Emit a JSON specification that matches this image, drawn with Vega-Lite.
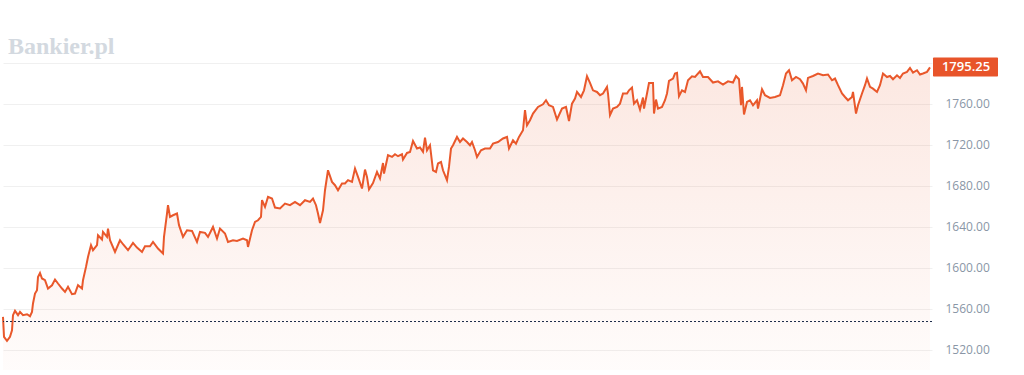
{
  "$schema": "https://vega.github.io/schema/vega-lite/v6.json",
  "autosize": {"type": "none"},
  "width": 929,
  "height": 330,
  "padding": {"left": 3, "top": 40, "right": 92, "bottom": 5},
  "background": "#ffffff",
  "title": {
    "text": "Bankier.pl",
    "anchor": "start",
    "frame": "group",
    "orient": "top",
    "baseline": "alphabetic",
    "offset": -38,
    "dx": 5,
    "font": "Liberation Serif",
    "fontSize": 24,
    "fontWeight": "bold",
    "color": "#d3d9e0"
  },
  "datasets": {
    "price": [
      {"t":3,"price":1551.8},{"t":4,"price":1532.3},{"t":7,"price":1528.4},{"t":10,"price":1532.3},{"t":12,"price":1538.8},{"t":13,"price":1553.5},{"t":15,"price":1557.7},{"t":18,"price":1553.5},{"t":20,"price":1556.7},{"t":23,"price":1553.5},{"t":27,"price":1554.4},{"t":30,"price":1552.5},{"t":32,"price":1556.7},{"t":33,"price":1564.9},{"t":35,"price":1574.6},{"t":37,"price":1577.9},{"t":38,"price":1590.8},{"t":40,"price":1594.7},{"t":42,"price":1589.3},{"t":45,"price":1587.6},{"t":48,"price":1579.5},{"t":52,"price":1582.7},{"t":55,"price":1588.3},{"t":58,"price":1584.4},{"t":62,"price":1579.5},{"t":65,"price":1576.2},{"t":68,"price":1581.1},{"t":72,"price":1574.0},{"t":75,"price":1574.6},{"t":78,"price":1582.7},{"t":82,"price":1579.5},{"t":83,"price":1587.6},{"t":86,"price":1600.6},{"t":88,"price":1610.3},{"t":91,"price":1621.8},{"t":93,"price":1616.9},{"t":97,"price":1621.8},{"t":98,"price":1631.5},{"t":102,"price":1627.3},{"t":103,"price":1634.7},{"t":107,"price":1629.9},{"t":108,"price":1638.0},{"t":110,"price":1626.6},{"t":115,"price":1615.2},{"t":120,"price":1626.6},{"t":123,"price":1622.7},{"t":128,"price":1616.9},{"t":133,"price":1624.0},{"t":137,"price":1619.5},{"t":142,"price":1615.2},{"t":145,"price":1620.8},{"t":150,"price":1620.8},{"t":153,"price":1625.0},{"t":158,"price":1618.5},{"t":163,"price":1613.7},{"t":164,"price":1629.9},{"t":167,"price":1652.7},{"t":168,"price":1660.8},{"t":170,"price":1649.4},{"t":173,"price":1651.0},{"t":177,"price":1652.7},{"t":179,"price":1641.3},{"t":183,"price":1629.9},{"t":187,"price":1636.4},{"t":192,"price":1635.7},{"t":197,"price":1625.0},{"t":200,"price":1634.7},{"t":205,"price":1633.8},{"t":208,"price":1629.9},{"t":213,"price":1639.6},{"t":217,"price":1628.3},{"t":220,"price":1638.0},{"t":225,"price":1633.2},{"t":228,"price":1625.0},{"t":233,"price":1626.6},{"t":237,"price":1626.0},{"t":243,"price":1628.3},{"t":247,"price":1626.6},{"t":248,"price":1620.1},{"t":252,"price":1636.4},{"t":255,"price":1644.5},{"t":258,"price":1646.1},{"t":261,"price":1649.4},{"t":262,"price":1665.7},{"t":265,"price":1659.1},{"t":268,"price":1668.9},{"t":272,"price":1667.3},{"t":275,"price":1658.5},{"t":280,"price":1657.6},{"t":285,"price":1662.4},{"t":290,"price":1660.8},{"t":295,"price":1664.0},{"t":300,"price":1660.8},{"t":305,"price":1665.7},{"t":310,"price":1664.0},{"t":313,"price":1667.3},{"t":316,"price":1660.8},{"t":318,"price":1652.7},{"t":320,"price":1643.5},{"t":323,"price":1655.9},{"t":325,"price":1675.4},{"t":328,"price":1694.9},{"t":332,"price":1683.5},{"t":335,"price":1680.3},{"t":338,"price":1675.4},{"t":342,"price":1682.0},{"t":345,"price":1682.0},{"t":348,"price":1685.2},{"t":352,"price":1683.5},{"t":355,"price":1696.6},{"t":358,"price":1688.4},{"t":362,"price":1677.1},{"t":365,"price":1695.6},{"t":367,"price":1688.4},{"t":369,"price":1676.1},{"t":373,"price":1682.5},{"t":377,"price":1693.3},{"t":380,"price":1686.8},{"t":383,"price":1702.0},{"t":384,"price":1691.7},{"t":388,"price":1709.6},{"t":392,"price":1707.9},{"t":395,"price":1710.5},{"t":398,"price":1708.6},{"t":402,"price":1710.5},{"t":403,"price":1705.4},{"t":407,"price":1711.8},{"t":410,"price":1712.8},{"t":413,"price":1723.5},{"t":417,"price":1716.1},{"t":420,"price":1717.1},{"t":423,"price":1712.8},{"t":425,"price":1726.8},{"t":427,"price":1714.4},{"t":430,"price":1719.3},{"t":433,"price":1694.9},{"t":436,"price":1693.3},{"t":438,"price":1701.5},{"t":441,"price":1703.0},{"t":443,"price":1694.9},{"t":447,"price":1685.2},{"t":449,"price":1698.1},{"t":451,"price":1716.1},{"t":453,"price":1719.3},{"t":457,"price":1727.4},{"t":460,"price":1722.5},{"t":463,"price":1725.9},{"t":467,"price":1722.5},{"t":470,"price":1719.3},{"t":472,"price":1722.5},{"t":475,"price":1714.4},{"t":477,"price":1707.9},{"t":481,"price":1714.4},{"t":485,"price":1716.1},{"t":490,"price":1716.1},{"t":493,"price":1720.9},{"t":498,"price":1722.5},{"t":503,"price":1725.9},{"t":507,"price":1727.4},{"t":509,"price":1716.1},{"t":513,"price":1724.2},{"t":516,"price":1720.9},{"t":519,"price":1727.4},{"t":523,"price":1733.9},{"t":525,"price":1753.5},{"t":527,"price":1738.8},{"t":530,"price":1743.7},{"t":533,"price":1750.2},{"t":538,"price":1756.7},{"t":543,"price":1759.3},{"t":546,"price":1763.2},{"t":549,"price":1758.3},{"t":553,"price":1756.7},{"t":557,"price":1744.4},{"t":562,"price":1755.1},{"t":566,"price":1756.7},{"t":569,"price":1743.0},{"t":572,"price":1759.9},{"t":575,"price":1764.9},{"t":577,"price":1771.3},{"t":581,"price":1766.4},{"t":584,"price":1772.9},{"t":587,"price":1786.6},{"t":590,"price":1780.1},{"t":593,"price":1772.9},{"t":597,"price":1771.3},{"t":600,"price":1768.1},{"t":603,"price":1769.8},{"t":607,"price":1776.2},{"t":608,"price":1769.8},{"t":610,"price":1748.6},{"t":613,"price":1755.1},{"t":617,"price":1756.7},{"t":620,"price":1759.9},{"t":623,"price":1769.8},{"t":627,"price":1769.8},{"t":629,"price":1772.9},{"t":632,"price":1775.6},{"t":634,"price":1759.9},{"t":637,"price":1763.2},{"t":640,"price":1754.1},{"t":643,"price":1765.8},{"t":644,"price":1755.1},{"t":647,"price":1769.8},{"t":649,"price":1780.1},{"t":653,"price":1780.1},{"t":654,"price":1750.2},{"t":656,"price":1763.9},{"t":658,"price":1755.1},{"t":662,"price":1756.7},{"t":665,"price":1763.2},{"t":667,"price":1769.8},{"t":669,"price":1782.1},{"t":673,"price":1784.4},{"t":675,"price":1789.3},{"t":677,"price":1789.9},{"t":679,"price":1767.1},{"t":682,"price":1772.9},{"t":685,"price":1771.3},{"t":688,"price":1782.7},{"t":692,"price":1786.6},{"t":695,"price":1785.9},{"t":700,"price":1791.5},{"t":703,"price":1785.9},{"t":708,"price":1785.9},{"t":713,"price":1780.5},{"t":718,"price":1781.7},{"t":723,"price":1778.5},{"t":728,"price":1781.7},{"t":733,"price":1780.5},{"t":736,"price":1786.9},{"t":739,"price":1783.7},{"t":741,"price":1758.3},{"t":742,"price":1776.2},{"t":744,"price":1749.3},{"t":747,"price":1761.6},{"t":750,"price":1763.2},{"t":753,"price":1758.3},{"t":757,"price":1763.2},{"t":758,"price":1755.1},{"t":762,"price":1774.0},{"t":765,"price":1768.1},{"t":770,"price":1765.5},{"t":775,"price":1766.4},{"t":780,"price":1768.1},{"t":783,"price":1777.9},{"t":786,"price":1789.3},{"t":789,"price":1792.5},{"t":792,"price":1782.7},{"t":796,"price":1785.9},{"t":800,"price":1783.7},{"t":803,"price":1779.5},{"t":806,"price":1772.9},{"t":808,"price":1785.0},{"t":813,"price":1786.9},{"t":818,"price":1789.3},{"t":823,"price":1787.6},{"t":828,"price":1788.3},{"t":832,"price":1782.7},{"t":835,"price":1784.4},{"t":838,"price":1777.9},{"t":842,"price":1769.8},{"t":845,"price":1766.4},{"t":848,"price":1763.2},{"t":852,"price":1766.4},{"t":853,"price":1771.3},{"t":856,"price":1750.2},{"t":858,"price":1758.3},{"t":862,"price":1769.8},{"t":865,"price":1777.9},{"t":867,"price":1784.4},{"t":870,"price":1776.2},{"t":873,"price":1774.5},{"t":877,"price":1771.3},{"t":880,"price":1777.9},{"t":883,"price":1789.3},{"t":887,"price":1785.9},{"t":890,"price":1786.9},{"t":893,"price":1783.7},{"t":897,"price":1787.6},{"t":900,"price":1785.0},{"t":903,"price":1789.3},{"t":907,"price":1790.9},{"t":910,"price":1794.7},{"t":913,"price":1790.2},{"t":917,"price":1792.5},{"t":920,"price":1788.3},{"t":923,"price":1789.3},{"t":927,"price":1790.9},{"t":930,"price":1795.25}
    ],
    "ref": [{"price": 1547.3}]
  },
  "encoding": {
    "y": {
      "field": "price",
      "type": "quantitative",
      "scale": {"domain": [1500, 1822], "zero": false, "nice": false},
      "axis": {
        "orient": "right",
        "values": [1520, 1560, 1600, 1640, 1680, 1720, 1760, 1800],
        "format": ".2f",
        "domain": false,
        "ticks": false,
        "labelPadding": 13,
        "labelColor": "#8a96a6",
        "labelFont": "Open Sans",
        "labelFontSize": 12,
        "grid": true,
        "gridColor": "#f0f0f0",
        "gridWidth": 1,
        "title": null
      }
    }
  },
  "layer": [
    {
      "data": {"name": "price"},
      "mark": {
        "type": "area",
        "color": {
          "gradient": "linear",
          "x1": 0, "y1": 0, "x2": 0, "y2": 1,
          "stops": [
            {"offset": 0, "color": "rgba(233,90,44,0.14)"},
            {"offset": 1, "color": "rgba(233,90,44,0.02)"}
          ]
        }
      },
      "encoding": {
        "x": {"field": "t", "type": "quantitative", "scale": {"domain": [3, 932], "nice": false, "zero": false}, "axis": null},
        "y2": {"datum": 1500}
      }
    },
    {
      "data": {"name": "price"},
      "mark": {"type": "line", "color": "#e9582b", "strokeWidth": 2},
      "encoding": {
        "x": {"field": "t", "type": "quantitative"}
      }
    },
    {
      "data": {"name": "ref"},
      "mark": {"type": "rule", "color": "#1c2b4a", "strokeWidth": 1, "strokeDash": [2, 2]},
      "encoding": {}
    },
    {
      "data": {"name": "price"},
      "transform": [{"filter": "datum.t == 930"}],
      "mark": {"type": "rect", "color": "#e8542a", "xOffset": 3, "x2Offset": 68, "yOffset": -10, "y2Offset": 9, "cornerRadius": 1},
      "encoding": {
        "x": {"field": "t", "type": "quantitative"},
        "x2": {"field": "t"},
        "y2": {"field": "price"}
      }
    },
    {
      "data": {"name": "price"},
      "transform": [{"filter": "datum.t == 930"}],
      "mark": {"type": "text", "color": "#ffffff", "align": "center", "baseline": "middle", "dx": 36, "font": "Open Sans", "fontSize": 13, "fontWeight": 600},
      "encoding": {
        "x": {"field": "t", "type": "quantitative"},
        "text": {"field": "price", "type": "quantitative", "format": ".2f"}
      }
    }
  ],
  "config": {
    "view": {"stroke": null}
  }
}
